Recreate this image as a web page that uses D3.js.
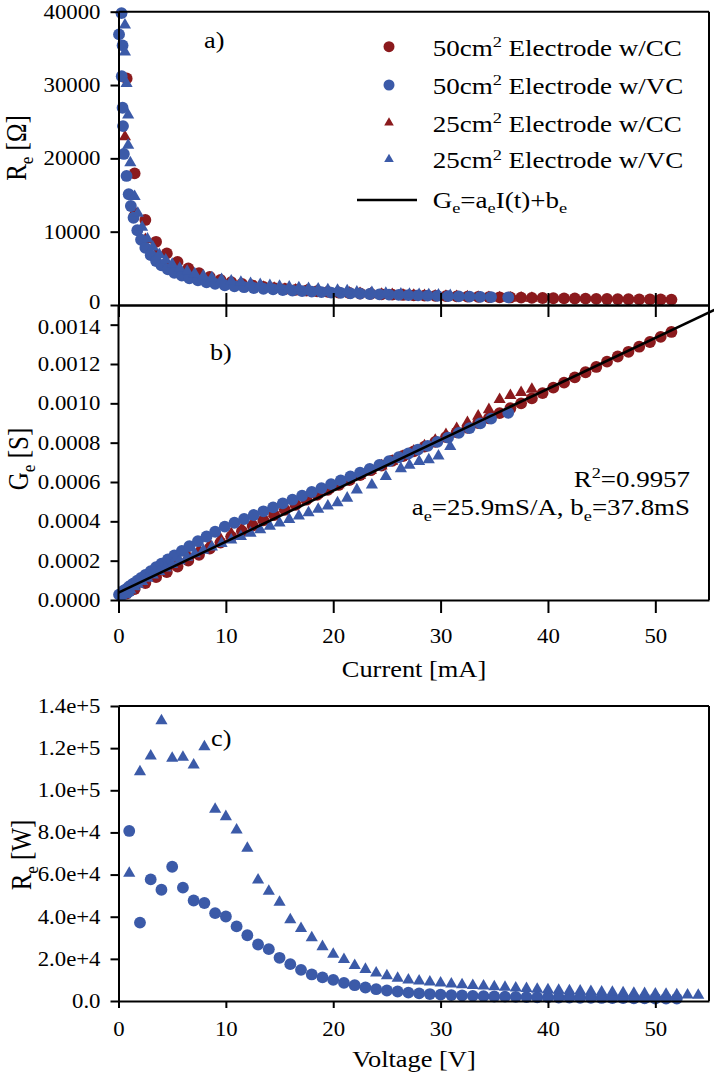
<!DOCTYPE html>
<html><head><meta charset="utf-8">
<script src="https://cdn.jsdelivr.net/npm/d3@7"></script>
<style>html,body{margin:0;padding:0;background:#fff;}svg{display:block;}</style>
</head><body>
<svg id="chart" width="714" height="1074"></svg>
<script>
// ---------- data ----------
const xTicks = [0, 10, 20, 30, 40, 50];
const xTickLabels = ["0", "10", "20", "30", "40", "50"];
const aYTicks = [0, 10000, 20000, 30000, 40000];
const aYTickLabels = ["0", "10000", "20000", "30000", "40000"];
const bYTicks = [0, 0.0002, 0.0004, 0.0006, 0.0008, 0.0010, 0.0012, 0.0014];
const bYTickLabels = ["0.0000", "0.0002", "0.0004", "0.0006", "0.0008", "0.0010", "0.0012", "0.0014"];
const cYTicks = [0, 20000, 40000, 60000, 80000, 100000, 120000, 140000];
const cYTickLabels = ["0.0", "2.0e+4", "4.0e+4", "6.0e+4", "8.0e+4", "1.0e+5", "1.2e+5", "1.4e+5"];

const legendLabels = ["50cm|2| Electrode w/CC", "50cm|2| Electrode w/VC", "25cm|2| Electrode w/CC", "25cm|2| Electrode w/VC"];

// 50cm2 electrode, constant current (dark red circles)
const cc50I = [0.76,1.5,2.5,3.5,4.5,5.5,6.5,7.5,8.5,9.5,10.5,11.5,12.5,13.5,14.5,15.5,16.5,17.5,18.5,19.5,20.5,21.5,22.5,23.5,24.5,25.5,26.5,27.5,28.5,29.5,30.5,31.5,32.5,33.5,34.5,35.5,36.5,37.5,38.5,39.5,40.5,41.5,42.5,43.5,44.5,45.5,46.5,47.5,48.5,49.5,50.5,51.5];
const cc50Re = [30900,17950,11600,8620,7040,5880,5000,4350,3820,3420,3110,2860,2650,2470,2310,2180,2070,1960,1870,1790,1710,1640,1570,1520,1460,1410,1370,1320,1280,1240,1210,1170,1140,1110,1080,1050,1030,1000,976,951,926,905,883,864,844,825,808,792,776,762,747,734];
const cc50Ge = [0.0000324,0.0000557,0.0000862,0.000116,0.000142,0.000170,0.000200,0.000230,0.000262,0.000292,0.000322,0.000350,0.000378,0.000405,0.000432,0.000458,0.000484,0.000510,0.000535,0.000560,0.000585,0.000610,0.000635,0.000660,0.000684,0.000708,0.000732,0.000756,0.000780,0.000804,0.000828,0.000852,0.000876,0.000900,0.000924,0.000950,0.000975,0.001000,0.001025,0.001052,0.001080,0.001105,0.001132,0.001158,0.001185,0.001212,0.001238,0.001262,0.001288,0.001312,0.001338,0.001363];

// 50cm2 electrode, voltage control (blue circles)
const vc50I = [0.05,0.28,0.30,0.38,0.38,0.42,0.50,0.75,0.95,1.15,1.40,1.75,2.10,2.5,3.0,3.5,4.0,4.6,5.2,5.9,6.6,7.4,8.2,9.0,9.9,10.8,11.7,12.6,13.5,14.4,15.3,16.2,17.1,18.0,18.9,19.8,20.7,21.6,22.5,23.4,24.3,25.2,26.1,27.0,27.9,28.8,29.7,30.7,31.7,32.7,33.7,34.7,36.3];
const vc50Re = [36900,39800,31200,35400,26900,24400,20600,17600,15100,13500,11900,10200,8900,7800,6800,6000,5400,4850,4400,4000,3650,3350,3100,2880,2680,2545,2427,2315,2217,2123,2037,1961,1887,1821,1757,1698,1645,1592,1546,1499,1456,1416,1377,1342,1307,1276,1244,1211,1176,1144,1114,1085,1050];
const vc50Ge = [0.0000271,0.0000251,0.0000321,0.0000282,0.0000372,0.0000410,0.0000485,0.0000568,0.0000662,0.0000741,0.0000840,0.0000980,0.000112,0.000128,0.000147,0.000167,0.000185,0.000206,0.000227,0.000250,0.000274,0.000299,0.000323,0.000347,0.000373,0.000393,0.000412,0.000432,0.000451,0.000471,0.000491,0.000510,0.000530,0.000549,0.000569,0.000589,0.000608,0.000628,0.000647,0.000667,0.000687,0.000706,0.000726,0.000745,0.000765,0.000784,0.000804,0.000826,0.000850,0.000874,0.000898,0.000922,0.000952];

// 25cm2 electrode, constant current (dark red triangles)
const cc25I = [0.6,1.5,2.5,3.5,4.5,5.5,6.5,7.5,8.5,9.5,10.5,11.5,12.5,13.5,14.5,15.5,16.5,17.5,18.5,19.5,20.5,21.5,22.5,23.5,24.5,25.5,26.5,27.5,28.5,29.5,30.5,31.5,32.5,33.5,34.5,35.5,36.5,37.5,38.5];
const cc25Re = [22950,12800,8930,6990,5810,5000,4390,3910,3520,3220,2960,2750,2560,2410,2270,2150,2040,1950,1860,1780,1710,1640,1580,1520,1470,1420,1370,1320,1280,1230,1190,1150,1110,1070,1030,980,962,948,933];
const cc25Ge = [0.0000436,0.0000780,0.000112,0.000143,0.000172,0.000200,0.000228,0.000256,0.000284,0.000311,0.000338,0.000364,0.000390,0.000415,0.000440,0.000465,0.000490,0.000514,0.000538,0.000562,0.000586,0.000610,0.000634,0.000658,0.000682,0.000706,0.000731,0.000757,0.000784,0.000812,0.000842,0.000872,0.000903,0.000935,0.000968,0.001020,0.001040,0.001055,0.001072];

// 25cm2 electrode, voltage control (blue triangles)
const vc25I = [0.6,0.6,0.75,0.9,0.9,1.1,1.5,1.8,2.2,2.7,3.2,3.8,4.4,5.0,5.7,6.4,7.1,7.9,8.7,9.6,10.5,11.4,12.3,13.2,14.1,15.0,15.9,16.8,17.7,18.6,19.5,20.4,21.3,22.2,23.6,24.9,26.3,27.1,28.0,28.9,29.8,30.9];
const vc25Re = [38200,34500,30200,25900,21800,19400,14800,12500,10600,9000,7900,6900,6150,5550,5000,4600,4250,3950,3700,3480,3280,3100,2940,2800,2670,2550,2440,2340,2250,2170,2090,2020,1930,1786,1709,1592,1497,1460,1420,1403,1366,1282];
const vc25Ge = [0.0000262,0.0000290,0.0000331,0.0000386,0.0000459,0.0000515,0.0000676,0.0000800,0.0000943,0.000111,0.000127,0.000145,0.000163,0.000180,0.000200,0.000217,0.000235,0.000253,0.000270,0.000287,0.000305,0.000323,0.000340,0.000357,0.000375,0.000392,0.000410,0.000427,0.000444,0.000461,0.000478,0.000495,0.000518,0.000560,0.000585,0.000628,0.000668,0.000685,0.000704,0.000713,0.000732,0.000780];

// linear fit  Ge = ae*I + be  (ae = 25.9 mS/A -> 0.0000259 S/mA, be = 0.0000378 S)
const fitA = 0.0000259;
const fitB = 0.0000378;
const fitRange = [0, 55.5];

// panel c: Re vs voltage
const cVolt50 = [1,2,3,4,5,6,7,8,9,10,11,12,13,14,15,16,17,18,19,20,21,22,23,24,25,26,27,28,29,30,31,32,33,34,35,36,37,38,39,40,41,42,43,44,45,46,47,48,49,50,51,52];
const cRe50 = [80700,37200,57700,52800,63700,53800,47700,46500,41700,40100,35400,31200,26800,24600,20500,17500,14800,12600,11200,10000,8600,7500,6400,5600,5000,4500,4000,3600,3300,3000,2800,2600,2450,2300,2150,2050,1950,1850,1750,1700,1650,1600,1550,1500,1450,1400,1350,1300,1250,1200,1150,1100];
const cVolt25 = [1,2,3,4,5,6,7,8,9,10,11,12,13,14,15,16,17,18,19,20,21,22,23,24,25,26,27,28,29,30,31,32,33,34,35,36,37,38,39,40,41,42,43,44,45,46,47,48,49,50,51,52,53,54];
const cRe25 = [60600,108800,116300,133000,115200,115700,112000,120700,91000,87500,81200,72500,57400,52100,46900,38600,34400,30000,25800,22200,19700,16800,15000,13300,12000,10800,10000,9500,9000,8500,8100,7700,7400,7100,6800,6500,6200,5900,5600,5300,5100,4900,4700,4500,4300,4100,3900,3700,3500,3300,3150,3000,2850,2700];

// ---------- style ----------
const RED = "#8b1a1d", BLUE = "#3b5aa8";
const FONT = "'Liberation Serif','Times New Roman',serif";
const SX = 1.14;
const circ = d3.symbol().type(d3.symbolCircle).size(110);
const tri = d3.symbol().type(d3.symbolTriangle).size(64);

const svg = d3.select("#chart");
svg.append("rect").attr("width", 714).attr("height", 1074).attr("fill", "#fff");

const xL = 118.5, xR = 709;
const x = d3.scaleLinear().domain([0, 55]).range([xL, xR]);
const ya = d3.scaleLinear().domain([0, 40000]).range([305, 11.7]);
const yb = d3.scaleLinear().domain([0, 0.0015]).range([600, 305]);
const yc = d3.scaleLinear().domain([0, 140000]).range([1001, 706]);

function styleAxis(g, fs) {
  g.selectAll("path.domain").attr("stroke", "#000").attr("stroke-width", 2);
  g.selectAll(".tick line").attr("stroke", "#000").attr("stroke-width", 2);
  g.selectAll(".tick text").attr("font-family", FONT).attr("font-size", fs).attr("fill", "#000")
    .each(function () {
      const t = d3.select(this);
      const tx = +t.attr("x") || 0, ty = +t.attr("y") || 0;
      t.attr("x", 0).attr("y", 0).attr("transform", `translate(${tx},${ty}) scale(${SX},1)`);
    });
}

function rich(parent, px, py, segs, fs, anchor, rot, sx) {
  const t = parent.append("text")
    .attr("transform", `translate(${px},${py}) scale(${sx || SX},1)` + (rot ? " rotate(-90)" : ""))
    .attr("font-family", FONT).attr("font-size", fs).attr("fill", "#000")
    .attr("text-anchor", anchor || "start");
  let cur = 0;
  segs.forEach(s => {
    const target = s[1] === "sup" ? -0.38 * fs : s[1] === "sub" ? 0.25 * fs : 0;
    t.append("tspan").attr("dy", target - cur).attr("font-size", s[1] ? fs * 0.68 : fs).text(s[0]);
    cur = target;
  });
  return t;
}
function parseLabel(str) {
  return str.split("|").map((p, i) => [p, i % 2 === 1 ? "sup" : null]);
}

function drawPoints(g, xs, ys, xScale, yScale, sym, color) {
  g.append("g").selectAll("path").data(xs.map((d, i) => [d, ys[i]])).join("path")
    .attr("d", sym).attr("fill", color)
    .attr("transform", d => `translate(${xScale(d[0])},${yScale(d[1])})`);
}

// ---------- panel a ----------
const pa = svg.append("g");
drawPoints(pa, cc50I, cc50Re, x, ya, circ, RED);
drawPoints(pa, cc25I, cc25Re, x, ya, tri, RED);
drawPoints(pa, vc50I, vc50Re, x, ya, circ, BLUE);
drawPoints(pa, vc25I, vc25Re, x, ya, tri, BLUE);

pa.append("line").attr("x1", xL).attr("x2", xR).attr("y1", ya(40000)).attr("y2", ya(40000)).attr("stroke", "#000").attr("stroke-width", 2);
pa.append("line").attr("x1", xR).attr("x2", xR).attr("y1", ya(40000)).attr("y2", 305).attr("stroke", "#000").attr("stroke-width", 2);
const aL = pa.append("g").attr("transform", `translate(${xL},0)`)
  .call(d3.axisLeft(ya).tickValues(aYTicks).tickFormat((d, i) => aYTickLabels[i]).tickSizeInner(8).tickSizeOuter(0).tickPadding(10));
styleAxis(aL, 20);
// nudge the "0" label up slightly so it clears the top label of panel b
aL.selectAll(".tick text").filter(d => d === 0).attr("dy", "0.18em");
const aB = pa.append("g").attr("transform", `translate(0,305)`)
  .call(d3.axisBottom(x).tickValues(xTicks).tickFormat("").tickSizeInner(12).tickSizeOuter(0));
styleAxis(aB, 20);
const aT = pa.append("g").attr("transform", `translate(0,305)`)
  .call(d3.axisTop(x).tickValues(xTicks).tickFormat("").tickSizeInner(12).tickSizeOuter(0));
styleAxis(aT, 20);
rich(pa, 26, 148, [["R", null], ["e", "sub"], [" [Ω]", null]], 25, "middle", true, 1.15);
rich(pa, 204, 48, [["a)", null]], 23, "start");

// legend
const lg = svg.append("g");
const legRows = [46.7, 85, 122.7, 159.3];
const legSyms = [[d3.symbol().type(d3.symbolCircle).size(95), RED], [d3.symbol().type(d3.symbolCircle).size(95), BLUE],
                 [d3.symbol().type(d3.symbolTriangle).size(40), RED], [d3.symbol().type(d3.symbolTriangle).size(40), BLUE]];
legendLabels.forEach((lab, i) => {
  lg.append("path").attr("d", legSyms[i][0]).attr("fill", legSyms[i][1])
    .attr("transform", `translate(389,${legRows[i]})`);
  rich(lg, 432.7, legRows[i] + 9, parseLabel(lab), 22.5, "start", false, 1.2);
});
lg.append("line").attr("x1", 357).attr("x2", 417).attr("y1", 200).attr("y2", 200).attr("stroke", "#000").attr("stroke-width", 2.6);
rich(lg, 432.7, 207.5, [["G", null], ["e", "sub"], ["=a", null], ["e", "sub"], ["I(t)+b", null], ["e", "sub"]], 22.5, "start", false, 1.2);

// ---------- panel b ----------
const pb = svg.append("g");
drawPoints(pb, cc50I, cc50Ge, x, yb, circ, RED);
drawPoints(pb, cc25I, cc25Ge, x, yb, tri, RED);
drawPoints(pb, vc50I, vc50Ge, x, yb, circ, BLUE);
drawPoints(pb, vc25I, vc25Ge, x, yb, tri, BLUE);
pb.append("path")
  .datum(fitRange.map(v => [v, fitA * v + fitB]))
  .attr("d", d3.line().x(d => x(d[0])).y(d => yb(d[1])))
  .attr("stroke", "#000").attr("stroke-width", 2.6).attr("fill", "none");
pb.append("line").attr("x1", xR).attr("x2", xR).attr("y1", 305).attr("y2", 600).attr("stroke", "#000").attr("stroke-width", 2);
const bL = pb.append("g").attr("transform", `translate(${xL},0)`)
  .call(d3.axisLeft(yb).tickValues(bYTicks).tickFormat((d, i) => bYTickLabels[i]).tickSizeInner(8).tickSizeOuter(0).tickPadding(10));
styleAxis(bL, 20);
bL.select("path.domain").attr("d", `M0,${yb(0)}V305`);
bL.selectAll(".tick text").filter(d => d === 0.0014).attr("dy", "0.42em");
const bB = pb.append("g").attr("transform", `translate(0,600)`)
  .call(d3.axisBottom(x).tickValues(xTicks).tickFormat((d, i) => xTickLabels[i]).tickSizeInner(13).tickSizeOuter(0).tickPadding(16));
styleAxis(bB, 20);
rich(pb, 28, 459, [["G", null], ["e", "sub"], [" [S]", null]], 25, "middle", true, 1.15);
rich(pb, 414, 677, [["Current [mA]", null]], 24, "middle", false, 1.1);
rich(pb, 210, 360, [["b)", null]], 23, "start");
rich(pb, 690, 487, [["R", null], ["2", "sup"], ["=0.9957", null]], 23, "end", false, 1.17);
rich(pb, 690, 515, [["a", null], ["e", "sub"], ["=25.9mS/A, b", null], ["e", "sub"], ["=37.8mS", null]], 23, "end", false, 1.17);

// ---------- panel c ----------
const pc = svg.append("g");
drawPoints(pc, cVolt50, cRe50, x, yc, circ, BLUE);
drawPoints(pc, cVolt25, cRe25, x, yc, tri, BLUE);
pc.append("line").attr("x1", xL).attr("x2", xR).attr("y1", 706).attr("y2", 706).attr("stroke", "#000").attr("stroke-width", 2);
pc.append("line").attr("x1", xR).attr("x2", xR).attr("y1", 706).attr("y2", 1001).attr("stroke", "#000").attr("stroke-width", 2);
const cL = pc.append("g").attr("transform", `translate(${xL},0)`)
  .call(d3.axisLeft(yc).tickValues(cYTicks).tickFormat((d, i) => cYTickLabels[i]).tickSizeInner(8).tickSizeOuter(0).tickPadding(10));
styleAxis(cL, 20);
const cB = pc.append("g").attr("transform", `translate(0,1001)`)
  .call(d3.axisBottom(x).tickValues(xTicks).tickFormat((d, i) => xTickLabels[i]).tickSizeInner(7).tickSizeOuter(0).tickPadding(14));
styleAxis(cB, 20);
rich(pc, 31, 855, [["R", null], ["e", "sub"], [" [W]", null]], 25, "middle", true, 1.15);
rich(pc, 414, 1067, [["Voltage [V]", null]], 24, "middle", false, 1.1);
rich(pc, 211, 746, [["c)", null]], 23, "start");
</script>
</body></html>
